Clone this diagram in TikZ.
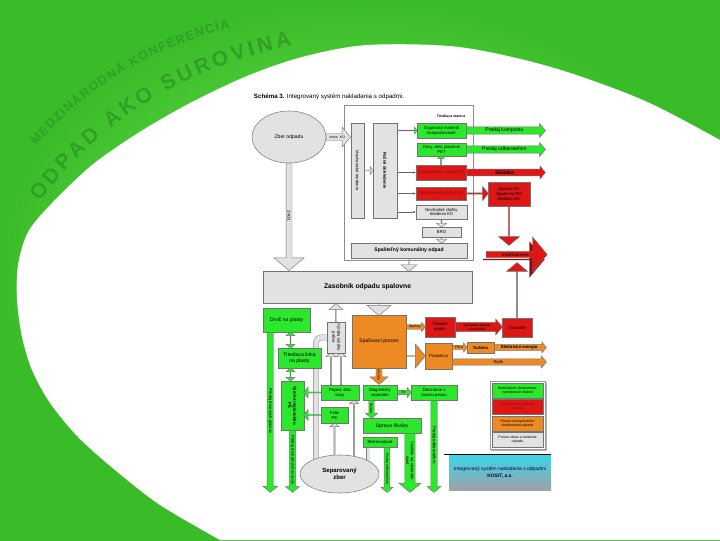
\documentclass[tikz,border=0pt]{standalone}
\usepackage{fontspec}
\setmainfont{Liberation Sans}
\usepackage{tikz}
\usetikzlibrary{arrows.meta, positioning, fit, calc, shapes.arrows, shapes.geometric, decorations.text}

\definecolor{bgout}{RGB}{58,188,40}
\definecolor{bgin}{RGB}{112,234,84}
\definecolor{txtgreen}{RGB}{48,160,38}
\definecolor{boxgreen}{RGB}{44,232,44}
\definecolor{boxred}{RGB}{222,22,22}
\definecolor{darkred}{RGB}{135,12,12}
\definecolor{boxorange}{RGB}{238,138,36}
\definecolor{boxgray}{RGB}{226,226,226}
\definecolor{capcyan}{RGB}{58,214,232}
\definecolor{capgray}{RGB}{158,160,168}

\newlength{\unitpx}
\setlength{\unitpx}{0.025cm}
\newcommand{\fsmall}{\fontsize{3.6}{4.1}\selectfont}
\newcommand{\ftiny}{\fontsize{3.0}{3.5}\selectfont}
\newcommand{\fmicro}{\fontsize{2.5}{2.9}\selectfont}

\pgfdeclarelayer{back}
\pgfdeclarelayer{pipes}
\pgfsetlayers{back,pipes,main}

\begin{document}
\begin{tikzpicture}[x=0.025cm, y=-0.025cm,
  blk/.style={rectangle, draw=black!55, line width=0.3pt, inner sep=0.5pt,
    align=center, font=\ftiny},
  gbox/.style={blk, fill=boxgreen},
  rbox/.style={blk, fill=boxred},
  obox/.style={blk, fill=boxorange},
  wbox/.style={blk, fill=boxgray},
  sz/.style 2 args={minimum width=#1\unitpx, minimum height=#2\unitpx},
  fatarr/.style={single arrow, draw=black!55, line width=0.3pt, inner sep=0pt,
    align=center, font=\ftiny, single arrow tip angle=100,
    single arrow head indent=0pt, anchor=tail},
  asz/.style n args={3}{minimum height=#1\unitpx, minimum width=#2\unitpx,
    single arrow head extend=#3\unitpx},
  garr/.style={fatarr, fill=boxgreen},
  rarr/.style={fatarr, fill=boxred},
  oarr/.style={fatarr, fill=boxorange},
  warr/.style={fatarr, fill=boxgray},
  gdbl/.style={double arrow, draw=black!55, line width=0.3pt, inner sep=0pt,
    fill=boxgreen, double arrow tip angle=100, double arrow head indent=0pt},
  dsz/.style n args={3}{minimum height=#1\unitpx, minimum width=#2\unitpx,
    double arrow head extend=#3\unitpx},
  thinarr/.style={-{Stealth[length=2pt, width=1.6pt]}, black!60, line width=0.35pt},
  pipe/.style={draw=black!50, line width=0.3pt, double=boxgray,
    double distance=5\unitpx, rounded corners=5\unitpx},
  legbox/.style={blk, sz={51}{15}, font=\fmicro},
]
\useasboundingbox (0,0) rectangle (720,540);
% ====== BACKGROUND ======
\begin{pgfonlayer}{back}
  \shade[inner color=bgin, outer color=bgout] (0,0) rectangle (720,540);
  \fill[white] (720,540) -- plot[smooth] coordinates {(220,540) (160,505) (115,470)
    (78,437) (50,403) (32,370) (22,337) (17,300) (18,265) (28,232) (52,203) (92,165)
    (138,133) (190,103) (247,76) (302,57) (367,45) (459,47) (551,67) (643,100) (720,140)}
    -- cycle;
  \path[decorate, decoration={text along path, text align={fit to path},
    text={|\fontsize{9}{10}\selectfont\bfseries\color{txtgreen}|MEDZINÁRODNÁ KONFERENCIA}}]
    (36,146) .. controls (82,92) and (145,50) .. (230,28);
  \path[decorate, decoration={text along path, text align={fit to path},
    text={|\fontsize{15}{15}\selectfont\bfseries\color{txtgreen}|ODPAD AKO SUROVINA}}]
    (40,202) .. controls (95,125) and (185,66) .. (292,46);
\end{pgfonlayer}
%
% ====== TITLE ======
\node[font=\fontsize{4.4}{5}\selectfont, anchor=west] (title) at (249,97)
  {\textbf{Schéma 3.} Integrovaný systém nakladania s odpadmi.};
%
% ====== TRIEDIACA STANICA ======
\node[rectangle, draw=black!45, fill=white, sz={129}{155}] (st) at (408.5,182.5) {};
\node[font=\fmicro\bfseries, below left=5\unitpx and 3\unitpx of st.north east] (st_l)
  {Triediaca stanica};
\node[ellipse, draw=black!50, fill=boxgray, sz={74}{52}, font=\fsmall] (zber) at (289,137)
  {Zber odpadu};
\node[warr, asz={24}{20}{3}, font=\fmicro] (a_zmes) at (zber.east) {zmes. KO};
\node[warr, asz={107}{30}{6.5}, rotate=-90, font=\fsmall] (a_zvoz) at (zber.south) {zvoz};
\node[wbox, sz={95}{13}, rotate=-90] (s_mech) at (357.5,170.5) {Mechanické triedenie};
\node[wbox, sz={95}{24}, rotate=-90, font=\ftiny\bfseries] (s_rucne) at (385,170.5)
  {Ručné dotriedenie};
\node[warr, asz={9}{8}{1.5}] (a_mr) at (s_mech.north) {};
% outputs of sorting
\node[gbox, sz={49}{15}] (g_org) at (441.5,130.5) {Organický materiál\\kompostovanie};
\node[garr, asz={20}{7}{1.5}] (a_g1) at (s_rucne.north |- g_org.west) {};
\node[garr, asz={79}{14}{2.5}, font=\fsmall] (a_org) at (g_org.east) {Predaj kompostu};
\node[gbox, sz={49}{13}] (g_kovy) at (441.5,149.5) {Kovy, sklo, plastové\\PET};
\node[garr, asz={79}{14}{2.5}, font=\fsmall] (a_kovy) at (g_kovy.east) {Predaj odberateľom};
\node[rbox, sz={50}{15}, text=darkred] (r_nevy) at (441,172.5) {Nevyužiteľné zložky KO};
\node[garr, asz={9}{7}{1.5}, rotate=90] (a_up) at (r_nevy.north) {};
\node[rarr, asz={79}{13}{2}, font=\fsmall\bfseries] (a_skl) at (r_nevy.east) {Skládka};
\node[rbox, sz={50}{13}, text=darkred] (r_neb) at (441,193.5) {Nebezpečné zložky KO};
\node[rbox, sz={42}{24}] (r_no) at (509,194) {Úprava NO\\Spaľovňa NO\\Skládka NO};
\node[rarr, asz={22}{14}{2}] (a_neb) at (r_neb.east) {};
\node[wbox, sz={51}{14}] (w_nevh) at (441.5,212) {Nevhodné zložky\\triedenia KO};
\node[warr, asz={8}{10}{2.5}, rotate=-90] (a_w1) at (w_nevh.south) {};
\node[wbox, sz={39}{10}] (w_bro) at (441.5,232) {BRO};
\node[warr, asz={6}{10}{2.5}, rotate=-90] (a_w2) at (w_bro.south) {};
\node[wbox, sz={116}{15}, font=\fsmall\bfseries] (w_spal) at (409,250.5)
  {Spaliteľný komunálny odpad};
\node[warr, asz={13}{16}{3}, rotate=-90] (a_w3) at (w_spal.south) {};
\draw[thinarr] (s_rucne.north |- r_nevy.west) -- (r_nevy.west);
\draw[thinarr] (s_rucne.north |- r_neb.west) -- (r_neb.west);
\draw[thinarr] (s_rucne.north |- w_nevh.west) -- (w_nevh.west);
% disposal
\node[rarr, asz={39}{21}{4}, rotate=-90] (a_ndown) at (r_no.south) {};
\node[fatarr, fill=darkred, draw=darkred, asz={61}{35}{8.5}] (zn_sh) at (483,259.5) {};
\node[rarr, asz={61}{35}{8.5}, font=\ftiny] (zn) at (486,254.5) {Zneškodnenie};
%
% ====== ZASOBNIK + SPALOVNA ======
\node[wbox, sz={209}{32}, font=\fontsize{4.8}{5.5}\selectfont\bfseries] (zas) at (367.5,287)
  {Zasobnik odpadu spalovne};
\node[obox, sz={54}{53}, font=\fsmall] (spal) at (379,341.5) {Spaľovací proces};
\node[warr, asz={12}{24}{5}, rotate=-90] (a_zs) at (spal.north |- zas.south) {};
\node[wbox, sz={31}{18}, rotate=-90] (vyr) at (336,337.5) {Výroba tuhého\\paliva};
\node[warr, asz={18}{14}{3}, rotate=90] (a_vz) at (vyr.west) {};
\node[rbox, sz={30}{20}] (cist) at (440,327) {Čistenie\\spalín};
\node[oarr, asz={19}{9}{1.5}, font=\fmicro] (a_spaliny) at (spal.east |- cist.west) {Spaliny};
\node[rbox, sz={30}{19}] (ovz) at (517,327.5) {Ovzdušie};
\node[rarr, asz={47}{16}{2.5}, font=\fmicro] (a_vyc) at (cist.east) {Vyčistené spaliny\\s kontrolou};
\node[rarr, asz={55}{21}{5}, rotate=90] (a_ovz) at (ovz.north) {};
\node[obox, sz={27}{26}] (kot) at (438.5,356) {Produkcia};
\node[oarr, asz={19}{24}{5}] (a_kot) at (spal.east |- kot.west) {};
\node[obox, sz={27}{11}, font=\ftiny\bfseries] (turb) at (480.5,347.5) {Turbína};
\node[oarr, asz={15}{9}{1.5}, font=\fmicro] (a_para) at (kot.east |- turb.west) {Para};
\node[oarr, asz={52}{11}{2}, font=\ftiny\bfseries] (a_el) at (turb.east) {Elektrická energia};
\node[oarr, asz={94}{12}{2}] (a_teplo) at ([yshift=-6\unitpx]kot.east) {Teplo};
\node[oarr, asz={16}{18}{3}, rotate=-90, font=\fmicro] (a_skv) at (spal.south) {škvára};
%
% ====== SEPAROVANY ZBER ======
\node[gbox, sz={47}{24}, font=\fsmall] (drv) at (286.5,320) {Drvič na plasty};
\node[garr, asz={160}{15}{3}, rotate=-90] (a_drv) at ([xshift=7.5\unitpx]drv.south west)
  {Predaj drvených plastov};
\node[gbox, sz={43}{20}, font=\fsmall] (tri) at (299.5,358) {Triediaca linka\\na plasty};
\node[gdbl, dsz={16}{9}{2}, rotate=90] (a_dt1) at (290.5,340) {};
\node[gbox, sz={49}{23}, rotate=-90, font=\ftiny\bfseries] (rec) at (292.5,405.5)
  {Výroba regranulátu\\PE};
\node[gdbl, dsz={13}{9}{2}, rotate=90] (a_dt2) at (290.5,374.5) {};
\node[garr, asz={62}{14}{2.5}, rotate=-90] (a_rec) at (rec.east) {Predaj druhotných surovín};
\node[gbox, sz={38}{15}] (pap) at (340,392.5) {Papier, sklo\\kovy};
\node[garr, asz={17}{11}{2}, rotate=180] (a_pap) at (pap.west) {};
\node[gbox, sz={27}{16}] (fol) at (334.5,415) {Fólie\\PE};
\node[garr, asz={17}{11}{2}, rotate=180] (a_fol) at (fol.west) {};
\node[gbox, sz={34}{15}] (mag) at (380,392.5) {Magnetický\\separátor};
\node[gbox, sz={46}{15}] (zel) at (434,392.5) {Železiarne s\\tavnou pecou};
\node[garr, asz={14}{10}{2}, font=\fmicro] (a_fe) at (mag.east) {Fe};
\node[garr, asz={92}{14}{2.5}, rotate=-90] (a_zel) at (zel.south) {Predaj odberateľom};
\node[gbox, sz={58}{15}, font=\fsmall] (upr) at (392,425.5) {Úprava škváry};
\node[garr, asz={18}{12}{2}, rotate=-90, font=\fmicro] (a_mag) at ([xshift=-8.5\unitpx]mag.south)
  {škvára};
\node[garr, asz={59}{22}{5}, rotate=-90] (a_upr) at ([xshift=18\unitpx]upr.south)
  {Využitie na výstavbu\\ciest};
\node[gbox, sz={34}{10}] (elo) at (380,442) {Elektroodpad};
\node[garr, asz={45}{12}{2}, rotate=-90, font=\fmicro] (a_elo) at ([xshift=7\unitpx]elo.south)
  {Predaj odberateľom};
\node[ellipse, draw=black!50, fill=boxgray, sz={79}{38}, inner sep=0pt, align=center,
  font=\fontsize{4.3}{5}\selectfont\bfseries] (sep) at (339.5,474) {Separovaný\\zber};
%
% ====== LEGEND ======
\node[legbox, fill=boxgreen] (leg_g) at (517.5,390.5) {Materiálové zhodnotenie\\vytriedených zložiek};
\node[legbox, fill=boxred, text=darkred, below=1\unitpx of leg_g] (leg_r) {Proces zneškodnenia\\odpadu};
\node[legbox, fill=boxorange, below=1\unitpx of leg_r] (leg_o) {Proces energetického\\zhodnotenia odpadu};
\node[legbox, fill=boxgray, below=1\unitpx of leg_o] (leg_w) {Proces zberu a triedenia\\odpadu};
\node[rectangle, top color=capcyan, bottom color=capgray, sz={102}{35}, align=center,
  font=\fontsize{3.5}{4.6}\selectfont, text=black!75!blue] (cap) at (500,472.5)
  {Integrovaný systém nakladania s odpadmi\\\textbf{KOSIT, a.s.}};
\draw[line width=0.6pt] ([xshift=-5\unitpx]cap.north west) -- (cap.north east);
%
% ====== PIPES (behind) ======
\begin{pgfonlayer}{pipes}
  \coordinate (pipe_in) at ([xshift=-23.5\unitpx]sep.center);
  \draw[pipe] (pipe_in) |- (vyr.south);
  \coordinate (pap_in) at ([xshift=14\unitpx]pap.south);
  \node[warr, asz={74}{9}{1.5}, rotate=90] (a_sp2) at (pap_in |- sep.center) {};
  \node[warr, asz={51}{9}{1.5}, rotate=90] (a_sp1) at (fol.south |- sep.center) {};
  \node[warr, asz={32}{10}{1.5}, rotate=90] (a_pv1) at ([xshift=-9\unitpx]pap.north) {};
  \node[warr, asz={32}{10}{1.5}, rotate=90] (a_pv2) at ([xshift=1\unitpx]pap.north) {};
  \coordinate (elo_in) at ([xshift=-12\unitpx]elo.south);
  \draw[pipe, double distance=3\unitpx] (elo_in |- sep.center) -- (elo_in);
  \node[fill=black!30, fit=(leg_g)(leg_w), inner sep=2\unitpx,
    xshift=1.5\unitpx, yshift=-1.5\unitpx] (leg_sh) {};
  \node[draw=black!40, fill=white, fit=(leg_g)(leg_w), inner sep=2\unitpx] (leg) {};
\end{pgfonlayer}
\end{tikzpicture}
\end{document}
